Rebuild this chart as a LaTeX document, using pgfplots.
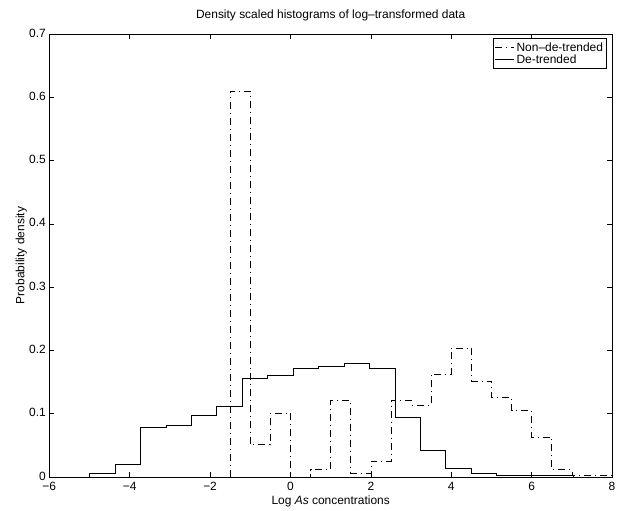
\documentclass[border=0pt]{standalone}
\usepackage{fontspec}
\setmainfont{Liberation Sans}
\usepackage{pgfplots}
\pgfplotsset{compat=1.18}
\begin{document}
\begin{tikzpicture}
\useasboundingbox (-49.3bp,-34bp) rectangle (567.7bp,477bp);
\begin{axis}[
  at={(0,0)}, anchor=south west,
  scale only axis, width=562.7bp, height=443bp,
  xmin=-6, xmax=8, ymin=0, ymax=0.7,
  xtick={-6,-4,-2,0,2,4,6,8},
  xticklabels={−6,−4,−2,0,2,4,6,8},
  ytick={0,0.1,0.2,0.3,0.4,0.5,0.6,0.7},
  yticklabels={0,0.1,0.2,0.3,0.4,0.5,0.6,0.7},
  /pgf/number format/assume math mode=true,
  tick align=inside, major tick length=5bp,
  every tick/.style={black, line width=0.6pt},
  axis line style={line width=0.8pt},
  tick label style={font=\fontsize{12}{14}\selectfont},
  xticklabel style={yshift=-1.5bp},
  yticklabel style={yshift=1bp},
  label style={font=\fontsize{12}{14}\selectfont},
  title={Density scaled histograms of log–transformed data},
  title style={font=\fontsize{12}{14}\selectfont, at={(rel axis cs:0.5,1)}, anchor=base, yshift=10bp},
  xlabel={Log \textit{As} concentrations},
  xlabel style={at={(rel axis cs:0.5,0)}, anchor=base, yshift=-27bp},
  ylabel={Probability density},
  ylabel style={at={(rel axis cs:0,0.5)}, anchor=base, rotate=0, yshift=25bp},
  legend style={at={(rel axis cs:0.991,0.99)}, anchor=north east, draw=black, line width=0.9pt,
    font=\fontsize{12}{13}\selectfont, inner sep=1.5bp, row sep=-2bp, fill=white},
  legend cell align=left,
  legend image code/.code={\draw[#1] (0bp,0bp) -- (19bp,0bp);},
]
\addplot[const plot, black, line width=0.55pt, dash pattern=on 7bp off 4bp on 1bp off 4bp] coordinates {
(-1.5,0) (-1.5,0.61) (-1.0,0.051) (-0.5,0.101) (0.0,0.0) (0.5,0.0116) (1.0,0.121)
(1.5,0.0063) (2.0,0.025) (2.5,0.121) (3.0,0.114) (3.5,0.163) (4.0,0.204) (4.5,0.152)
(5.0,0.126) (5.5,0.105) (6.0,0.0635) (6.5,0.0116) (7.0,0.0026) (7.5,0.002) (8.0,0.002)
};
\addlegendentry{Non–de-trended}
\addplot[const plot, black, line width=0.55pt] coordinates {
(-5.000,0) (-5.000,0.0053) (-4.367,0.0206) (-3.734,0.079) (-3.101,0.0815) (-2.468,0.097)
(-1.835,0.111) (-1.202,0.156) (-0.569,0.160) (0.064,0.172) (0.697,0.175) (1.330,0.180)
(1.963,0.172) (2.596,0.095) (3.229,0.043) (3.862,0.0138) (4.495,0.0053) (5.128,0.003)
(5.761,0.003) (6.394,0.0026) (7.027,0)
};
\addlegendentry{De-trended}
\end{axis}
\end{tikzpicture}
\end{document}
